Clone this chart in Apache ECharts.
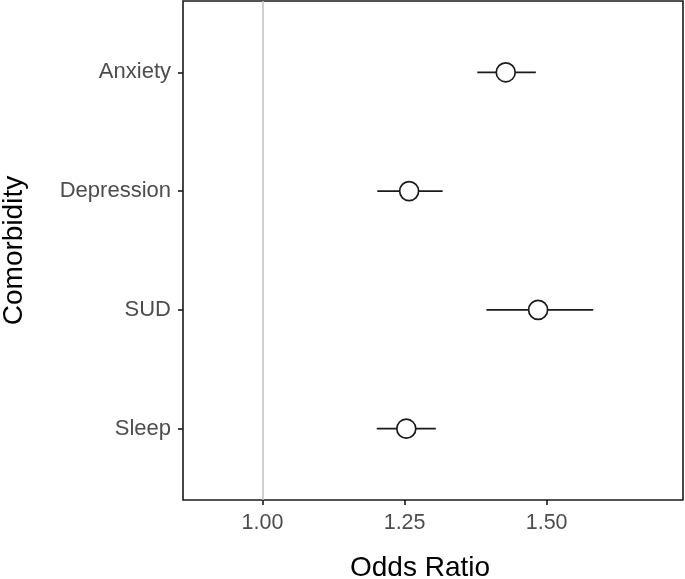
<!DOCTYPE html>
<html>
<head>
<meta charset="utf-8">
<script src="https://cdn.jsdelivr.net/npm/echarts@6/dist/echarts.min.js"></script>
<style>
  html, body { margin: 0; padding: 0; background: #fff; }
  #main { width: 685px; height: 579px; }
</style>
</head>
<body>
<div id="main"></div>
<script>
// forest plot: odds ratio per comorbidity (top to bottom)
var categories = ['Anxiety', 'Depression', 'SUD', 'Sleep'];
var oddsRatio = [1.428, 1.258, 1.485, 1.253];
var lower = [1.378, 1.202, 1.394, 1.201];
var upper = [1.481, 1.317, 1.582, 1.305];
var xTicks = [1.00, 1.25, 1.50];
var refLine = 1;

var font = '"Liberation Sans", Arial, Helvetica, sans-serif';
var ink = '#1a1a1a';

var chart = echarts.init(document.getElementById('main'), null, { renderer: 'canvas' });

var pointData = [];
var barData = [];
var catPos = [];
for (var i = 0; i < categories.length; i++) {
  pointData.push([oddsRatio[i], i + 1]);
  barData.push([lower[i], upper[i], i + 1]);
  catPos.push(i + 1);
}

var option = {
  backgroundColor: '#fff',
  animation: false,
  grid: {
    left: 183,
    right: 2,
    top: 1,
    bottom: 79,
    outerBoundsMode: 'none',
    containLabel: false,
    show: true,
    borderColor: ink,
    borderWidth: 1.6,
    backgroundColor: '#fff'
  },
  xAxis: {
    type: 'value',
    min: 0.86,
    max: 1.74,
    name: 'Odds Ratio',
    nameLocation: 'middle',
    nameGap: 54,
    nameTextStyle: { fontFamily: font, fontSize: 28, color: '#000', padding: [0, 26, 0, 0] },
    axisLine: { show: false },
    axisTick: { show: true, length: 5, customValues: xTicks, lineStyle: { color: ink, width: 1.6 } },
    axisLabel: {
      customValues: xTicks,
      margin: 12,
      fontFamily: font,
      fontSize: 21.5,
      color: '#4d4d4d',
      formatter: function (v) { return v.toFixed(2); }
    },
    splitLine: { show: false }
  },
  yAxis: {
    type: 'value',
    inverse: true,
    min: 0.4,
    max: 4.6,
    name: 'Comorbidity',
    nameLocation: 'middle',
    nameGap: 155,
    nameTextStyle: { fontFamily: font, fontSize: 28, color: '#000' },
    axisLine: { show: false },
    axisTick: { show: true, length: 5, customValues: catPos, lineStyle: { color: ink, width: 1.6 } },
    axisLabel: {
      customValues: catPos,
      margin: 12,
      fontFamily: font,
      fontSize: 22,
      color: '#4d4d4d',
      formatter: function (v) { return categories[Math.round(v) - 1] || ''; }
    },
    splitLine: { show: false }
  },
  series: [
    {
      type: 'custom',
      data: barData,
      encode: { x: [0, 1], y: 2 },
      z: 2,
      renderItem: function (params, api) {
        var p1 = api.coord([api.value(0), api.value(2)]);
        var p2 = api.coord([api.value(1), api.value(2)]);
        return {
          type: 'line',
          shape: { x1: p1[0], y1: p1[1], x2: p2[0], y2: p2[1] },
          style: { stroke: ink, lineWidth: 1.8 }
        };
      },
      markLine: {
        silent: true,
        symbol: 'none',
        label: { show: false },
        lineStyle: { color: '#c4c4c4', width: 1.6, type: 'solid' },
        data: [{ xAxis: refLine }]
      }
    },
    {
      type: 'scatter',
      data: pointData,
      z: 3,
      symbol: 'circle',
      symbolSize: 19,
      itemStyle: { color: '#fff', borderColor: ink, borderWidth: 1.7, opacity: 1 }
    }
  ]
};

chart.setOption(option);
</script>
</body>
</html>
